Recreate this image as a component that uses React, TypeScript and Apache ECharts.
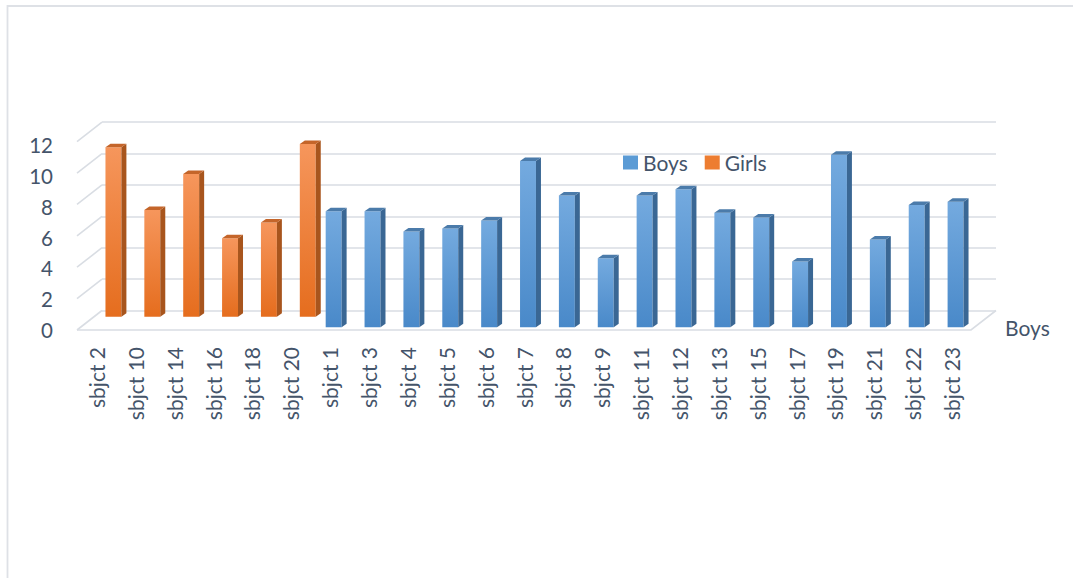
import React, { useEffect, useRef } from "react";
import * as echarts from "echarts";

const categories = [
  "sbjct 2", "sbjct 10", "sbjct 14", "sbjct 16", "sbjct 18", "sbjct 20",
  "sbjct 1", "sbjct 3", "sbjct 4", "sbjct 5", "sbjct 6", "sbjct 7", "sbjct 8",
  "sbjct 9", "sbjct 11", "sbjct 12", "sbjct 13", "sbjct 15", "sbjct 17",
  "sbjct 19", "sbjct 21", "sbjct 22", "sbjct 23",
];
const girlsCats = ["sbjct 2", "sbjct 10", "sbjct 14", "sbjct 16", "sbjct 18", "sbjct 20"];
const girlsValues = [10.8, 6.8, 9.1, 5.0, 6.0, 11.0];
const boysCats = [
  "sbjct 1", "sbjct 3", "sbjct 4", "sbjct 5", "sbjct 6", "sbjct 7", "sbjct 8",
  "sbjct 9", "sbjct 11", "sbjct 12", "sbjct 13", "sbjct 15", "sbjct 17",
  "sbjct 19", "sbjct 21", "sbjct 22", "sbjct 23",
];
const boysValues = [7.4, 7.4, 6.1, 6.3, 6.8, 10.6, 8.4, 4.4, 8.4, 8.8, 7.3, 7.0, 4.2, 11.0, 5.6, 7.8, 8.0];
const yTicks = [0, 2, 4, 6, 8, 10, 12];
const seriesNames = ["Boys", "Girls"];

const FONT = "Lato";
const TEXT = "#44546A";
const GRID = "#D9DDE3";
const WALL_DX = 25;
const WALL_DY = -19.5;
const BAR_DX = 5;
const BAR_DY = -3.5;

function barRender(rowDx: number, rowDy: number, c: { top: string; bottom: string; side: string; cap: string }) {
  return (params: any, api: any) => {
    const i = api.value(0);
    const v = api.value(1);
    const base = api.coord([i, 0]);
    const tp = api.coord([i, v]);
    const band = api.size([1, 0])[0];
    const w = band * 0.41;
    const x0 = base[0] - w / 2 + rowDx;
    const yb = base[1] + rowDy;
    const yt = tp[1] + rowDy;
    return {
      type: "group",
      children: [
        {
          type: "rect",
          shape: { x: x0, y: yt, width: w, height: yb - yt },
          style: {
            fill: new echarts.graphic.LinearGradient(0, 0, 0, 1, [
              { offset: 0, color: c.top },
              { offset: 1, color: c.bottom },
            ]),
          },
        },
        {
          type: "polygon",
          shape: { points: [[x0 + w, yb], [x0 + w, yt], [x0 + w + BAR_DX, yt + BAR_DY], [x0 + w + BAR_DX, yb + BAR_DY]] },
          style: { fill: c.side },
        },
        {
          type: "polygon",
          shape: { points: [[x0, yt], [x0 + w, yt], [x0 + w + BAR_DX, yt + BAR_DY], [x0 + BAR_DX, yt + BAR_DY]] },
          style: { fill: c.cap },
        },
      ],
    };
  };
}

export default function App() {
  const ref = useRef<HTMLDivElement>(null);
  useEffect(() => {
    if (!ref.current) return;
    const chart = echarts.init(ref.current, undefined, { renderer: "svg" });
    const gridW = 894;
    const option: any = {
      animation: false,
      backgroundColor: "#ffffff",
      textStyle: { fontFamily: FONT },
      legend: {
        data: seriesNames,
        left: 618,
        top: 147,
        icon: "rect",
        itemWidth: 15,
        itemHeight: 14,
        itemGap: 17,
        textStyle: { fontFamily: FONT, fontSize: 21, color: TEXT },
      },
      grid: [
        { left: 77, top: 141.7, width: gridW, height: 188.3 },
        { left: 77 + WALL_DX, top: 141.7 + WALL_DY, width: gridW, height: 188.3 },
        { left: 77, top: 145, width: gridW, height: 185 },
      ],
      xAxis: [
        {
          type: "category",
          gridIndex: 0,
          data: categories,
          axisLine: { show: false },
          axisTick: { show: false },
          axisLabel: { rotate: 90, margin: 17, fontSize: 21, color: TEXT, fontFamily: FONT, interval: 0 },
        },
        { type: "category", gridIndex: 1, data: categories, show: false },
        { type: "category", gridIndex: 2, data: categories, show: false },
      ],
      yAxis: [
        { type: "value", gridIndex: 0, min: 0, max: 12, interval: 2, show: false, splitLine: { show: false } },
        {
          type: "value",
          gridIndex: 1,
          min: 0,
          max: 12,
          interval: 2,
          axisLine: { show: false },
          axisTick: { show: false },
          axisLabel: { show: false },
          splitLine: { show: true, lineStyle: { color: GRID, width: 1.6 } },
        },
        {
          type: "value",
          gridIndex: 2,
          min: 0,
          max: 12,
          interval: 2,
          axisLine: { show: false },
          axisTick: { show: false },
          splitLine: { show: false },
          axisLabel: { margin: 24, fontSize: 20.5, color: TEXT, fontFamily: FONT },
        },
      ],
      series: [
        {
          name: "wall",
          type: "custom",
          xAxisIndex: 0,
          yAxisIndex: 0,
          silent: true,
          z: 1,
          data: yTicks.map((v) => [0, v]),
          renderItem: (params: any, api: any) => {
            const p = api.coord([api.value(0), api.value(1)]);
            const band = api.size([1, 0])[0];
            const x = p[0] - band / 2;
            return {
              type: "line",
              shape: { x1: x, y1: p[1], x2: x + WALL_DX, y2: p[1] + WALL_DY },
              style: { stroke: GRID, lineWidth: 1.6 },
            };
          },
        },
        {
          name: "floor",
          type: "custom",
          xAxisIndex: 0,
          yAxisIndex: 0,
          silent: true,
          z: 1,
          data: [[0, 0, categories.length - 1]],
          renderItem: (params: any, api: any) => {
            const band = api.size([1, 0])[0];
            const a = api.coord([api.value(0), 0]);
            const b = api.coord([api.value(2), 0]);
            const xl = a[0] - band / 2;
            const xr = b[0] + band / 2;
            return {
              type: "polyline",
              shape: { points: [[xl, a[1]], [xr, b[1]], [xr + WALL_DX, b[1] + WALL_DY]] },
              style: { stroke: GRID, lineWidth: 1.6, fill: "none" },
            };
          },
        },
        {
          name: "Girls",
          type: "custom",
          xAxisIndex: 0,
          yAxisIndex: 0,
          z: 3,
          itemStyle: { color: "#ED7D31" },
          data: girlsValues.map((v, k) => [categories.indexOf(girlsCats[k]), v]),
          renderItem: barRender(17, -13.3, { top: "#F6965C", bottom: "#E56D1E", side: "#A8551D", cap: "#C4652A" }),
        },
        {
          name: "Boys",
          type: "custom",
          xAxisIndex: 0,
          yAxisIndex: 0,
          z: 4,
          itemStyle: { color: "#5B9BD5" },
          data: boysValues.map((v, k) => [categories.indexOf(boysCats[k]), v]),
          renderItem: barRender(4, -2.7, { top: "#74AADF", bottom: "#4989C9", side: "#3A6794", cap: "#4B7BAA" }),
        },
      ],
      graphic: [
        {
          type: "rect",
          silent: true,
          shape: { x: 7.5, y: 6, width: 1120, height: 620 },
          style: { fill: "none", stroke: "#DEE1E6", lineWidth: 1.8 },
        },
        {
          type: "text",
          x: 1005,
          y: 327,
          style: { text: "Boys", fontFamily: FONT, fontSize: 21, fill: TEXT, verticalAlign: "middle" },
        },
      ],
    };
    chart.setOption(option);
    return () => chart.dispose();
  }, []);
  return <div ref={ref} style={{ position: "fixed", left: 0, top: 0, width: 1073, height: 578 }} />;
}
